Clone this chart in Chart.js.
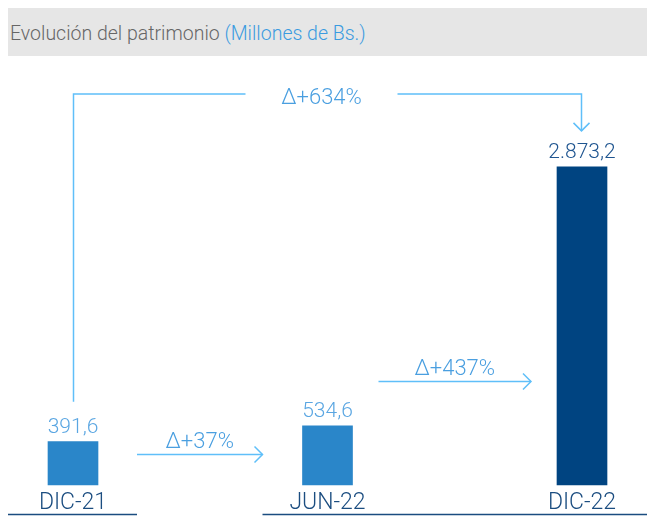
<!DOCTYPE html>
<html>
<head>
    <title>Evolución del patrimonio</title>
    <script src="https://cdn.jsdelivr.net/npm/chart.js"></script>
    <style>
        body { margin: 0; background: #fff; }
        .wrap { position: relative; width: 647px; height: 516px; }
        .title {
            position: absolute; left: 8px; top: 8px; width: 639px; height: 48px;
            background: #e6e6e6; font-family: Roboto, sans-serif; font-weight: 300;
            font-size: 19.5px; line-height: 52px; color: #666; padding-left: 2px; box-sizing: border-box;
        }
        .title span { color: #3b9be0; }
        canvas { position: absolute; left: 0; top: 0; }
    </style>
</head>
<body>
    <div class="wrap">
        <canvas id="chart" width="647" height="516"></canvas>
        <div class="title">Evolución del patrimonio <span>(Millones de Bs.)</span></div>
    </div>
    <script>
        // Data
        const periods = ['DIC-21', 'JUN-22', 'DIC-22'];
        const patrimonio = [391.6, 534.6, 2873.2];
        const valueLabels = ['391,6', '534,6', '2.873,2'];
        const barColors = ['#2a86c9', '#2a86c9', '#004481'];
        const valueColors = ['#5aa6e2', '#5aa6e2', '#1f5590'];
        // growth arrows between periods (y level in data units)
        const growthFrom = [0, 1];
        const growthTo = [1, 2];
        const growthText = ['Δ+37%', 'Δ+437%'];
        const growthLevel = [280, 940];
        const totalGrowthText = 'Δ+634%';

        const arrowColor = '#5fbff9';
        const deltaColor = '#4a9fe0';

        function chevron(ctx, x, y, dir, s) {
            ctx.beginPath();
            if (dir === 'right') {
                ctx.moveTo(x - s, y - s); ctx.lineTo(x, y); ctx.lineTo(x - s, y + s);
            } else {
                ctx.moveTo(x - s, y - s); ctx.lineTo(x, y); ctx.lineTo(x + s, y - s);
            }
            ctx.stroke();
        }

        const annotations = {
            id: 'annotations',
            afterDatasetsDraw(chart) {
                const ctx = chart.ctx;
                const bars = chart.getDatasetMeta(0).data;
                const yScale = chart.scales.y;
                const base = bars[0].base;
                ctx.save();

                // value labels
                ctx.textAlign = 'center';
                ctx.textBaseline = 'alphabetic';
                ctx.font = '300 21px Roboto';
                bars.forEach((b, i) => {
                    ctx.fillStyle = valueColors[i];
                    ctx.fillText(valueLabels[i], b.x, b.y - 9);
                });

                // category labels and baselines
                ctx.font = '300 23px Roboto';
                ctx.fillStyle = '#1b4d80';
                bars.forEach((b, i) => {
                    ctx.fillText(periods[i], b.x, b.base + 24);
                });
                ctx.strokeStyle = '#1b4d80';
                ctx.lineWidth = 1.5;
                ctx.beginPath();
                ctx.moveTo(bars[0].x - 65, base + 29.5);
                ctx.lineTo(bars[0].x + 64, base + 29.5);
                ctx.moveTo(bars[1].x - 65, base + 29.5);
                ctx.lineTo(chart.width, base + 29.5);
                ctx.stroke();

                // short growth arrows
                ctx.strokeStyle = arrowColor;
                ctx.lineWidth = 1.5;
                ctx.font = '300 22px Roboto';
                ctx.fillStyle = deltaColor;
                growthFrom.forEach((f, k) => {
                    const a = bars[f], t = bars[growthTo[k]];
                    const y = Math.round(yScale.getPixelForValue(growthLevel[k])) + 0.5;
                    const x1 = a.x + a.width / 2 + 39 - (k ? 13 : 0);
                    const x2 = t.x - t.width / 2 - 40 + (k ? 14 : 0);
                    ctx.beginPath();
                    ctx.moveTo(x1, y); ctx.lineTo(x2, y);
                    ctx.stroke();
                    chevron(ctx, x2, y, 'right', 8);
                    ctx.fillText(growthText[k], (x1 + x2) / 2, y - 7);
                });

                // total growth bracket
                const top = chart.chartArea.top - 3.5;
                const xl = Math.round(bars[0].x) + 0.5;
                const xr = Math.round(bars[2].x) - 0.5;
                const mid = (xl + xr) / 2 - 6;
                ctx.beginPath();
                ctx.moveTo(xl, bars[0].y - 40);
                ctx.lineTo(xl, top);
                ctx.lineTo(mid - 76, top);
                ctx.moveTo(mid + 76, top);
                ctx.lineTo(xr, top);
                ctx.lineTo(xr, bars[2].y - 36);
                ctx.stroke();
                chevron(ctx, xr, bars[2].y - 36, 'down', 8);
                ctx.fillText(totalGrowthText, mid, top + 10);

                ctx.restore();
            }
        };

        new Chart(document.getElementById('chart'), {
            type: 'bar',
            data: {
                labels: periods,
                datasets: [{
                    data: patrimonio,
                    backgroundColor: barColors,
                    barThickness: 50,
                    clip: false
                }]
            },
            options: {
                responsive: false,
                animation: false,
                layout: { padding: { left: 73, right: 65, top: 97.5, bottom: 31 } },
                plugins: { legend: { display: false }, tooltip: { enabled: false } },
                scales: {
                    x: { display: false, offset: false, grid: { display: false } },
                    y: { display: false, min: 0, max: 3500 }
                }
            },
            plugins: [annotations]
        });
    </script>
</body>
</html>
